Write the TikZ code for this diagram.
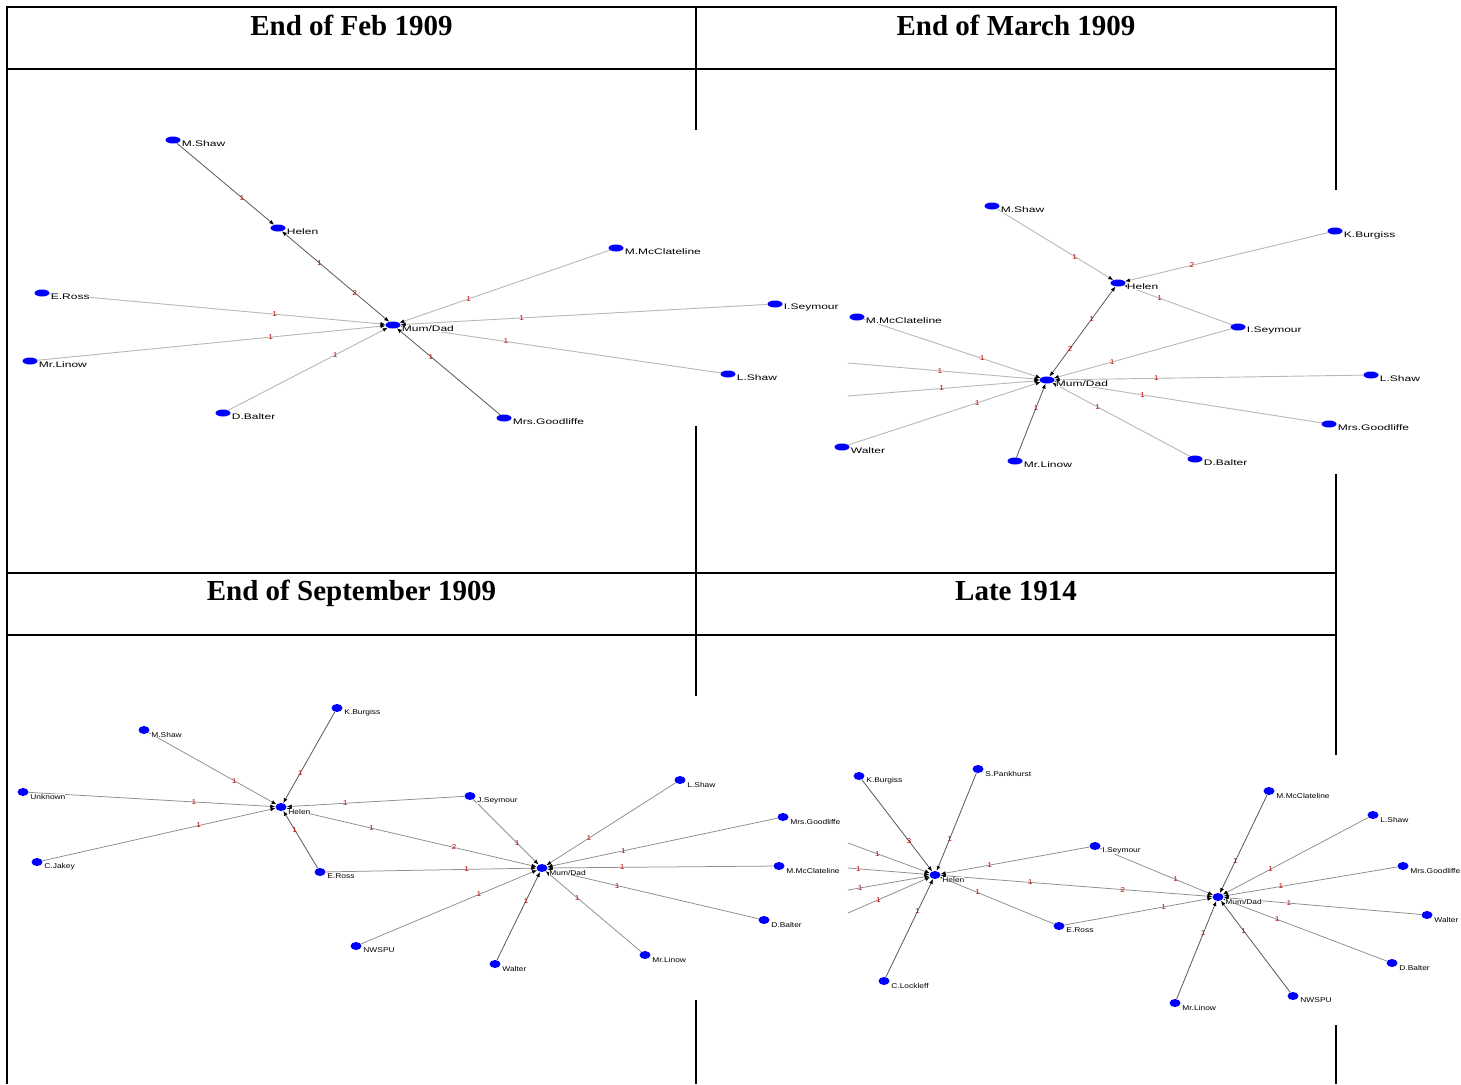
\documentclass[tikz,border=0pt]{standalone}
\usepackage{fontspec}
\setmainfont{Liberation Serif}
\newfontfamily\labfont{Liberation Sans}[FakeStretch=1.5]
\newfontfamily\labfonts{Liberation Sans}[FakeStretch=1.2]
\usetikzlibrary{arrows.meta,positioning,shapes.geometric}
\tikzset{v/.style={ellipse,fill=blue,inner sep=0pt,minimum width=15pt,minimum height=7pt}}
\tikzset{vs/.style={ellipse,fill=blue,inner sep=0pt,minimum width=11pt,minimum height=8pt}}
\tikzset{l/.style={font=\labfont\fontsize{8}{8}\selectfont,inner sep=0pt,fill=white,yshift=-4pt}}
\tikzset{m/.style={font=\labfonts\fontsize{7}{7}\selectfont,inner sep=0pt,fill=white,yshift=-4.5pt}}
\tikzset{w/.style={font=\labfonts\fontsize{7}{7}\selectfont,text=red!75!black,inner sep=0pt,pos=0.67}}
\tikzset{g/.style={draw=black!28,line width=0.9pt,->}}
\tikzset{gm/.style={draw=black!45,line width=0.75pt,->}}
\tikzset{d/.style={draw=black!65,line width=0.8pt,->}}
\tikzset{ttl/.style={font=\fontsize{29}{29}\selectfont\bfseries,anchor=base,inner sep=0pt}}

\begin{document}
\begin{tikzpicture}[x=1pt,y=-1pt,>={Latex[length=5pt,width=4pt,color=black]}]
\useasboundingbox (0,0) rectangle (1461,1084);
\draw[line width=1.6pt] (6.2,7) -- (1336.8,7) (6.2,69) -- (1336.8,69) (6.2,573) -- (1336.8,573) (6.2,635) -- (1336.8,635);
\draw[line width=1.6pt] (7,7) -- (7,1084) (696,7) -- (696,1084) (1336,7) -- (1336,1084);
\node[ttl] (T1) at (351.5,35) {End of Feb 1909};
\node[ttl] (T2) at (1016,35) {End of March 1909};
\node[ttl] (T3) at (351.5,600) {End of September 1909};
\node[ttl] (T4) at (1016,600) {Late 1914};

% End of March 1909
\fill[white] (834,190) rectangle (1461,474);
\node[v] (BMD) at (1047,380) {};
\node[v] (BH) at (1118,283) {}
  edge [d, <->] node [w, pos=0.36] {1} node [w, pos=0.69] {2} (BMD);
\node[v] (BMS) at (992,206) {} edge [g] node [w] {1} (BH);
\node[v] (BKB) at (1335,231) {} edge [g] node [w] {2} (BH);
\node[v] (BIS) at (1238,327) {}
  edge [g] node [w] {1} (BH)
  edge [g] node [w] {1} (BMD);
\node[v] (BMM) at (857,317) {} edge [g] node [w] {1} (BMD);
\node[v] (BW) at (842,447) {} edge [g] node [w] {1} (BMD);
\node[v] (BML) at (1015,461) {} edge [d] node [w] {1} (BMD);
\node[v] (BDB) at (1195,459) {} edge [g] node [w] {1} (BMD);
\node[v] (BMG) at (1329,424) {} edge [g] node [w] {1} (BMD);
\node[v] (BLS) at (1371,375) {} edge [g] node [w] {1} (BMD);
\coordinate (BC1) at (848,363);
\coordinate (BC2) at (848,396);
\path (BC1) edge [g] node [w, pos=0.48] {1} (BMD)
      (BC2) edge [g] node [w, pos=0.49] {1} (BMD);
\node[l, right=1pt of BMD] (BMDn) {Mum/Dad};
\node[l, right=1pt of BH] (BHn) {Helen};
\node[l, right=1pt of BMS] (BMSn) {M.Shaw};
\node[l, right=1pt of BKB] (BKBn) {K.Burgiss};
\node[l, right=1pt of BIS] (BISn) {I.Seymour};
\node[l, right=1pt of BMM] (BMMn) {M.McClateline};
\node[l, right=1pt of BW] (BWn) {Walter};
\node[l, right=1pt of BML] (BMLn) {Mr.Linow};
\node[l, right=1pt of BDB] (BDBn) {D.Balter};
\node[l, right=1pt of BMG] (BMGn) {Mrs.Goodliffe};
\node[l, right=1pt of BLS] (BLSn) {L.Shaw};

% End of Feb 1909
\fill[white] (8,130) rectangle (847,426);
\node[v] (AMD) at (393,325) {};
\node[v] (AH) at (278,228) {}
  edge [d, <->] node [w, pos=0.35] {1} node [w, pos=0.68] {2} (AMD);
\node[v] (AMS) at (173,140) {} edge [d] node [w] {1} (AH);
\node[v] (AER) at (42,293) {} edge [g] node [w] {1} (AMD);
\node[v] (AML) at (30,361) {} edge [g] node [w] {1} (AMD);
\node[v] (ADB) at (223,413) {} edge [g] node [w] {1} (AMD);
\node[v] (AMM) at (616,248) {} edge [g] node [w] {1} (AMD);
\node[v] (AIS) at (775,304) {} edge [g] node [w] {1} (AMD);
\node[v] (ALS) at (728,374) {} edge [g] node [w] {1} (AMD);
\node[v] (AMG) at (504,418) {} edge [d] node [w] {1} (AMD);
\node[l, right=1pt of AMD] (AMDn) {Mum/Dad};
\node[l, right=1pt of AH] (AHn) {Helen};
\node[l, right=1pt of AMS] (AMSn) {M.Shaw};
\node[l, right=1pt of AER] (AERn) {E.Ross};
\node[l, right=1pt of AML] (AMLn) {Mr.Linow};
\node[l, right=1pt of ADB] (ADBn) {D.Balter};
\node[l, right=1pt of AMM] (AMMn) {M.McClateline};
\node[l, right=1pt of AIS] (AISn) {I.Seymour};
\node[l, right=1pt of ALS] (ALSn) {L.Shaw};
\node[l, right=1pt of AMG] (AMGn) {Mrs.Goodliffe};

% Late 1914
\fill[white] (834,755) rectangle (1461,1025);
\node[vs] (DH) at (935,875) {};
\node[vs] (DMD) at (1218,897) {};
\path (DH) edge [gm, <->] node [w, pos=0.33] {1} node [w, pos=0.67] {2} (DMD);
\node[vs] (DKB) at (859,776) {} edge [d] node [w] {3} (DH);
\node[vs] (DSP) at (978,769) {} edge [d] node [w] {1} (DH);
\node[vs] (DIS) at (1095,846) {}
  edge [gm] node [w] {1} (DH)
  edge [gm] node [w] {1} (DMD);
\node[vs] (DER) at (1059,926) {}
  edge [gm] node [w] {1} (DH)
  edge [gm] node [w] {1} (DMD);
\node[vs] (DCL) at (884,981) {} edge [d] node [w] {1} (DH);
\coordinate (DC1) at (848,843);
\coordinate (DC2) at (848,868);
\coordinate (DC3) at (848,890);
\coordinate (DC4) at (848,913);
\path (DC1) edge [gm] node [w, pos=0.36] {1} (DH)
      (DC2) edge [gm] node [w, pos=0.13] {1} (DH)
      (DC3) edge [gm] node [w, pos=0.15] {1} (DH)
      (DC4) edge [gm] node [w, pos=0.37] {1} (DH);
\node[vs] (DMM) at (1269,791) {} edge [d] node [w] {1} (DMD);
\node[vs] (DLS) at (1373,815) {} edge [gm] node [w] {1} (DMD);
\node[vs] (DMG) at (1403,866) {} edge [gm] node [w] {1} (DMD);
\node[vs] (DWA) at (1427,915) {} edge [gm] node [w] {1} (DMD);
\node[vs] (DDB) at (1392,963) {} edge [gm] node [w] {1} (DMD);
\node[vs] (DNW) at (1293,996) {} edge [d] node [w] {1} (DMD);
\node[vs] (DML) at (1175,1003) {} edge [d] node [w] {1} (DMD);
\node[m, right=1.5pt of DH] (DHn) {Helen};
\node[m, right=1.5pt of DMD] (DMDn) {Mum/Dad};
\node[m, right=1.5pt of DKB] (DKBn) {K.Burgiss};
\node[m, right=1.5pt of DSP] (DSPn) {S.Pankhurst};
\node[m, right=1.5pt of DIS] (DISn) {I.Seymour};
\node[m, right=1.5pt of DER] (DERn) {E.Ross};
\node[m, right=1.5pt of DCL] (DCLn) {C.Lockleff};
\node[m, right=1.5pt of DMM] (DMMn) {M.McClateline};
\node[m, right=1.5pt of DLS] (DLSn) {L.Shaw};
\node[m, right=1.5pt of DMG] (DMGn) {Mrs.Goodliffe};
\node[m, right=1.5pt of DWA] (DWAn) {Walter};
\node[m, right=1.5pt of DDB] (DDBn) {D.Balter};
\node[m, right=1.5pt of DNW] (DNWn) {NWSPU};
\node[m, right=1.5pt of DML] (DMLn) {Mr.Linow};

% End of September 1909
\fill[white] (8,696) rectangle (847,1000);
\node[vs] (CH) at (281,807) {};
\node[vs] (CMD) at (542,868) {};
\path (CH) edge [gm, <->] node [w, pos=0.34] {1} node [w, pos=0.67] {2} (CMD);
\node[vs] (CKB) at (337,708) {} edge [d] node [w] {1} (CH);
\node[vs] (CMS) at (144,730) {} edge [gm] node [w] {1} (CH);
\node[vs] (CUN) at (23,792) {} edge [gm] node [w] {1} (CH);
\node[vs] (CCJ) at (37,862) {} edge [gm] node [w] {1} (CH);
\node[vs] (CJS) at (470,796) {}
  edge [gm] node [w] {1} (CH)
  edge [gm] node [w] {1} (CMD);
\node[vs] (CER) at (320,872) {}
  edge [d] node [w] {1} (CH)
  edge [gm] node [w] {1} (CMD);
\node[vs] (CNW) at (356,946) {} edge [gm] node [w] {1} (CMD);
\node[vs] (CWA) at (495,964) {} edge [d] node [w] {1} (CMD);
\node[vs] (CLS) at (680,780) {} edge [gm] node [w] {1} (CMD);
\node[vs] (CMG) at (783,817) {} edge [gm] node [w] {1} (CMD);
\node[vs] (CMM) at (779,866) {} edge [gm] node [w] {1} (CMD);
\node[vs] (CDB) at (764,920) {} edge [gm] node [w] {1} (CMD);
\node[vs] (CML) at (645,955) {} edge [gm] node [w] {1} (CMD);
\node[m, right=1.5pt of CH] (CHn) {Helen};
\node[m, right=1.5pt of CMD] (CMDn) {Mum/Dad};
\node[m, right=1.5pt of CKB] (CKBn) {K.Burgiss};
\node[m, right=1.5pt of CMS] (CMSn) {M.Shaw};
\node[m, right=1.5pt of CUN] (CUNn) {Unknown};
\node[m, right=1.5pt of CCJ] (CCJn) {C.Jakey};
\node[m, right=1.5pt of CJS] (CJSn) {J.Seymour};
\node[m, right=1.5pt of CER] (CERn) {E.Ross};
\node[m, right=1.5pt of CNW] (CNWn) {NWSPU};
\node[m, right=1.5pt of CWA] (CWAn) {Walter};
\node[m, right=1.5pt of CLS] (CLSn) {L.Shaw};
\node[m, right=1.5pt of CMG] (CMGn) {Mrs.Goodliffe};
\node[m, right=1.5pt of CMM] (CMMn) {M.McClateline};
\node[m, right=1.5pt of CDB] (CDBn) {D.Balter};
\node[m, right=1.5pt of CML] (CMLn) {Mr.Linow};
\end{tikzpicture}
\end{document}
